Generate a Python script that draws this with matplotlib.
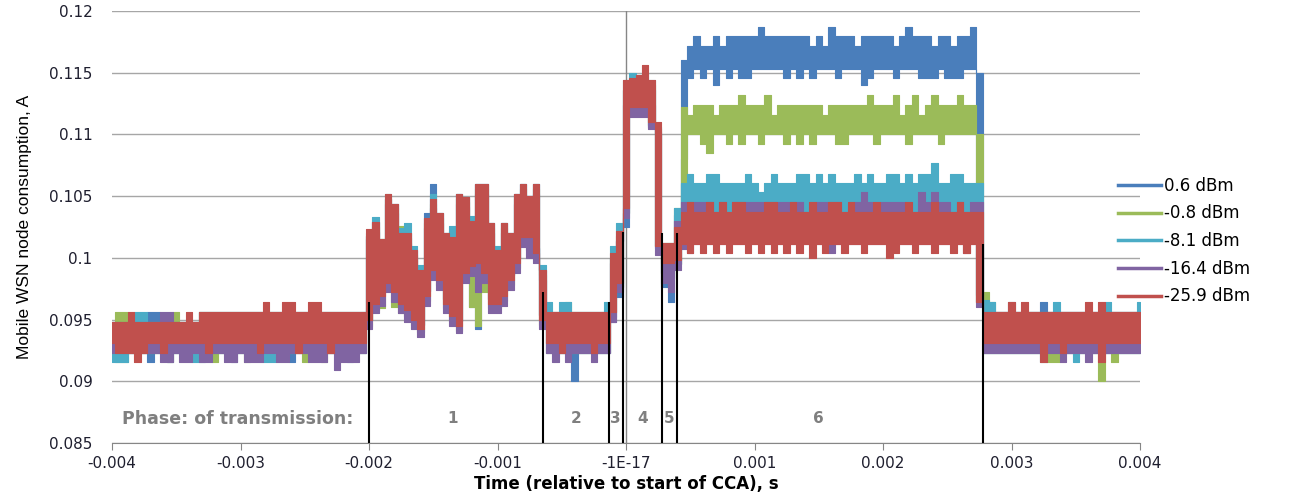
import matplotlib
matplotlib.use("Agg")
import matplotlib.pyplot as plt
import numpy as np
from matplotlib.lines import Line2D

# ---------------------------------------------------------------------------
# Data: one reading every 50 us from -4 ms to +4 ms (161 samples).
# Each trace is stored as the upper / lower edge of its noise band, in mA.
# Segments: idle (40) | phase 1 (28) | phase 2 (10) | phases 3-5 (12)
#           | phase 6 (45) | fall + idle (26)
# ---------------------------------------------------------------------------

T_START = -0.004
T_STEP = 0.00005

LABELS = ["0.6 dBm", "-0.8 dBm", "-8.1 dBm", "-16.4 dBm", "-25.9 dBm"]
COLORS = ["#4a7ebb", "#9bbb59", "#4bacc6", "#8064a2", "#c0504d"]

BLUE_HI = [
    94.8, 94.8, 94.8, 94.8, 94.8, 94.8, 95.6, 95.6, 94.8, 94.8,
    94.8, 94.8, 94.8, 94.8, 95.6, 95.6, 95.6, 95.6, 95.6, 95.6,
    95.6, 95.6, 95.6, 95.6, 95.6, 95.6, 95.6, 95.6, 95.6, 95.6,
    95.6, 95.6, 95.6, 95.6, 95.6, 95.6, 95.6, 95.6, 95.6, 95.6,
    101.8, 102.9, 101.1, 104.8, 104.4, 102.0, 102.0, 100.6, 99.0, 103.6,
    106.0, 103.6, 102.0, 101.7, 105.2, 104.9, 103.0, 106.0, 106.0, 102.8,
    100.6, 102.8, 102.0, 105.2, 106.0, 105.0, 106.0, 99.0,
    95.6, 95.6, 95.6, 95.6, 95.6, 95.6, 95.6, 95.6, 95.6, 95.6,
    100.0, 101.4, 113.6, 114.0, 114.0, 114.0, 113.6, 110.6, 100.8, 100.8, 103.5, 116.0,
    117.2, 118.0, 117.2, 117.2, 118.0, 117.2, 118.0, 118.0, 118.0, 118.0,
    118.0, 118.7, 118.0, 118.0, 118.0, 118.0, 118.0, 118.0, 118.0, 117.2,
    118.0, 117.2, 118.7, 118.0, 118.0, 118.0, 117.2, 118.0, 118.0, 118.0,
    118.0, 118.0, 117.2, 118.0, 118.7, 118.0, 118.0, 118.0, 117.2, 118.0,
    118.0, 117.2, 118.0, 118.0, 118.7,
    115.0, 96.0, 95.6, 95.6, 95.6, 95.6, 95.6, 95.6, 95.6, 95.6,
    96.4, 95.6, 95.6, 95.6, 95.6, 95.6, 95.6, 95.6, 95.6, 95.6,
    95.6, 95.6, 95.6, 95.6, 95.6, 95.6,
]
BLUE_LO = [
    92.3, 92.3, 92.3, 92.3, 92.3, 92.3, 91.6, 92.3, 92.3, 92.3,
    92.3, 92.3, 92.3, 92.3, 92.3, 92.3, 92.3, 92.3, 92.3, 91.6,
    92.3, 92.3, 92.3, 92.3, 92.3, 92.3, 92.3, 92.3, 91.6, 92.3,
    92.3, 92.3, 92.3, 92.3, 92.3, 92.3, 92.3, 92.3, 92.3, 92.3,
    95.0, 96.7, 97.3, 98.4, 97.6, 96.7, 96.2, 95.4, 94.6, 97.3,
    99.4, 98.6, 96.7, 95.7, 94.9, 99.2, 96.0, 94.2, 99.2, 96.7,
    96.7, 97.3, 98.6, 100.0, 102.1, 101.3, 100.8, 95.4,
    93.1, 92.3, 92.3, 92.3, 90.0, 92.3, 92.3, 92.3, 92.3, 92.3,
    94.8, 96.8, 102.5, 112.0, 112.0, 112.0, 110.6, 100.8, 97.6, 96.4, 99.5, 108.0,
    114.6, 115.3, 114.6, 115.3, 114.0, 115.3, 114.6, 115.3, 114.6, 114.6,
    115.3, 115.3, 115.3, 115.3, 115.3, 114.6, 115.3, 114.6, 115.3, 114.6,
    115.3, 115.3, 115.3, 114.6, 115.3, 115.3, 115.3, 114.0, 114.6, 115.3,
    115.3, 115.3, 114.6, 115.3, 115.3, 115.3, 114.6, 114.6, 114.6, 115.3,
    114.6, 114.6, 114.6, 115.3, 115.3,
    97.0, 92.3, 92.3, 92.3, 92.3, 92.3, 92.3, 92.3, 92.3, 92.3,
    92.3, 92.3, 92.3, 92.3, 92.3, 92.3, 92.3, 92.3, 92.3, 92.3,
    92.3, 92.3, 92.3, 92.3, 92.3, 92.3,
]

GREEN_HI = [
    94.8, 95.6, 95.6, 94.8, 94.8, 94.8, 94.8, 94.8, 94.8, 94.8,
    95.6, 94.8, 94.8, 94.8, 95.6, 95.6, 95.6, 95.6, 95.6, 95.6,
    95.6, 95.6, 95.6, 95.6, 95.6, 95.6, 95.6, 95.6, 95.6, 95.6,
    95.6, 95.6, 95.6, 95.6, 95.6, 95.6, 95.6, 95.6, 95.6, 95.6,
    101.8, 102.5, 101.5, 104.8, 104.0, 102.6, 101.6, 100.2, 98.6, 102.8,
    104.4, 103.2, 101.6, 102.2, 104.8, 104.5, 102.6, 105.6, 105.6, 102.4,
    100.2, 102.4, 101.6, 104.8, 105.6, 104.6, 105.6, 98.6,
    95.6, 95.6, 95.6, 96.4, 95.6, 95.6, 95.6, 95.6, 95.6, 95.6,
    100.0, 101.8, 113.6, 114.4, 114.4, 114.4, 114.0, 110.4, 101.2, 101.2, 104.0, 112.2,
    111.6, 112.4, 112.4, 112.4, 111.6, 112.4, 112.4, 112.4, 113.2, 112.4,
    112.4, 112.4, 113.2, 111.6, 112.4, 112.4, 112.4, 112.4, 112.4, 112.4,
    112.4, 111.6, 112.4, 112.4, 112.4, 112.4, 112.4, 112.4, 113.2, 112.4,
    112.4, 112.4, 113.2, 111.6, 112.4, 113.2, 111.6, 112.4, 113.2, 112.4,
    112.4, 112.4, 113.2, 112.4, 112.4,
    110.0, 97.2, 96.4, 95.6, 95.6, 95.6, 95.6, 95.6, 95.6, 95.6,
    95.6, 95.6, 95.6, 95.6, 95.6, 95.6, 95.6, 95.6, 95.6, 95.6,
    95.6, 95.6, 95.6, 95.6, 95.6, 95.6,
]
GREEN_LO = [
    92.3, 91.6, 91.6, 92.3, 92.3, 92.3, 92.3, 92.3, 92.3, 91.6,
    92.3, 92.3, 92.3, 92.3, 92.3, 92.3, 91.6, 92.3, 92.3, 92.3,
    92.3, 91.6, 92.3, 92.3, 92.3, 92.3, 92.3, 92.3, 92.3, 92.3,
    91.6, 92.3, 92.3, 91.6, 92.3, 92.3, 92.3, 92.3, 92.3, 92.3,
    94.5, 95.8, 95.9, 97.6, 96.0, 95.5, 95.3, 94.6, 94.0, 96.5,
    98.6, 97.8, 95.9, 94.9, 94.1, 98.4, 96.0, 94.5, 97.2, 95.9,
    95.9, 96.5, 97.8, 99.2, 101.3, 100.6, 100.0, 94.6,
    92.3, 92.3, 92.3, 92.3, 92.3, 92.3, 92.3, 92.3, 92.3, 92.3,
    95.6, 97.6, 103.6, 112.0, 112.0, 112.0, 110.8, 101.0, 98.8, 98.4, 99.5, 106.0,
    110.0, 110.0, 109.2, 108.5, 110.0, 110.0, 109.2, 110.0, 109.2, 110.0,
    110.0, 109.2, 110.0, 110.0, 110.0, 109.2, 110.0, 109.2, 110.0, 109.2,
    110.0, 110.0, 110.0, 109.2, 109.2, 110.0, 110.0, 110.0, 110.0, 109.2,
    110.0, 110.0, 110.0, 110.0, 109.2, 110.0, 110.0, 110.0, 110.0, 109.2,
    110.0, 110.0, 110.0, 110.0, 110.0,
    96.4, 92.3, 92.3, 92.3, 92.3, 92.3, 92.3, 92.3, 92.3, 92.3,
    92.3, 91.6, 91.6, 92.3, 92.3, 92.3, 92.3, 92.3, 92.3, 90.0,
    92.3, 91.6, 92.3, 92.3, 92.3, 92.3,
]

CYAN_HI = [
    94.8, 94.8, 94.8, 94.8, 95.6, 95.6, 94.8, 94.8, 94.8, 94.8,
    94.8, 94.8, 94.8, 94.8, 95.6, 95.6, 95.6, 95.6, 95.6, 95.6,
    95.6, 95.6, 95.6, 95.6, 95.6, 95.6, 95.6, 95.6, 95.6, 95.6,
    95.6, 95.6, 95.6, 95.6, 95.6, 95.6, 95.6, 95.6, 95.6, 95.6,
    102.0, 103.3, 101.5, 105.2, 104.4, 102.4, 102.8, 101.0, 99.4, 103.2,
    105.2, 103.6, 102.0, 102.6, 105.2, 104.9, 103.4, 106.0, 106.0, 102.8,
    101.0, 102.8, 102.0, 105.2, 106.0, 105.0, 106.0, 99.4,
    96.4, 95.6, 96.4, 96.4, 95.6, 95.6, 95.6, 95.6, 95.6, 96.4,
    101.0, 102.8, 114.4, 115.0, 114.8, 115.0, 114.4, 110.0, 101.2, 101.2, 104.0, 106.1,
    106.8, 106.1, 106.1, 106.8, 106.8, 106.1, 106.1, 106.1, 106.1, 106.8,
    106.1, 105.3, 106.1, 106.8, 106.1, 106.1, 106.1, 106.8, 106.8, 106.1,
    106.8, 106.1, 106.8, 106.1, 106.1, 106.1, 106.8, 106.1, 106.8, 106.1,
    106.1, 106.8, 106.8, 106.1, 106.8, 106.1, 106.8, 106.8, 107.7, 106.1,
    106.1, 106.8, 106.8, 106.1, 106.1,
    106.1, 96.6, 96.4, 95.6, 95.6, 96.4, 95.6, 95.6, 95.6, 95.6,
    95.6, 95.6, 96.4, 95.6, 95.6, 95.6, 95.6, 95.6, 95.6, 95.6,
    96.4, 95.6, 95.6, 95.6, 95.6, 96.4,
]
CYAN_LO = [
    91.6, 91.6, 91.6, 92.3, 92.3, 92.3, 92.3, 92.3, 92.3, 91.6,
    92.3, 92.3, 92.3, 91.6, 91.6, 92.3, 92.3, 92.3, 92.3, 92.3,
    92.3, 92.3, 92.3, 92.3, 91.6, 91.6, 92.3, 92.3, 92.3, 92.3,
    92.3, 92.3, 92.3, 92.3, 92.3, 92.3, 92.3, 91.6, 92.3, 92.3,
    95.0, 96.7, 97.3, 98.4, 97.6, 96.7, 96.2, 95.4, 94.6, 97.3,
    99.4, 98.6, 96.7, 95.7, 94.9, 99.2, 99.7, 100.0, 99.2, 96.7,
    96.7, 97.3, 98.6, 100.0, 102.1, 101.3, 100.8, 95.4,
    92.3, 92.3, 92.3, 92.3, 92.3, 92.3, 92.3, 92.3, 92.3, 92.3,
    95.2, 97.6, 103.6, 112.0, 112.0, 112.0, 110.8, 101.0, 98.8, 98.4, 99.5, 103.0,
    103.0, 103.0, 103.0, 103.0, 103.0, 103.0, 103.0, 103.0, 103.0, 103.0,
    103.0, 103.0, 103.0, 103.0, 103.0, 103.0, 103.0, 103.0, 103.0, 103.0,
    103.0, 103.0, 103.0, 103.0, 103.0, 103.0, 103.0, 103.0, 103.0, 103.0,
    103.0, 103.0, 103.0, 103.0, 103.0, 103.0, 103.0, 103.0, 103.0, 103.0,
    103.0, 103.0, 103.0, 103.0, 103.0,
    96.4, 92.3, 92.3, 92.3, 92.3, 92.3, 92.3, 92.3, 92.3, 92.3,
    91.6, 92.3, 92.3, 92.3, 92.3, 91.6, 92.3, 92.3, 92.3, 92.3,
    92.3, 92.3, 92.3, 92.3, 92.3, 92.3,
]

PURPLE_HI = [
    94.8, 94.8, 94.8, 94.8, 94.8, 94.8, 94.8, 94.8, 95.6, 95.6,
    94.8, 94.8, 94.8, 94.8, 94.8, 94.8, 94.8, 94.8, 94.8, 94.8,
    94.8, 94.8, 94.8, 94.8, 94.8, 94.8, 94.8, 94.8, 94.8, 94.8,
    94.8, 94.8, 94.8, 94.8, 94.8, 94.8, 94.8, 94.8, 94.8, 94.8,
    101.5, 102.1, 100.7, 104.4, 103.6, 101.2, 101.2, 99.8, 98.2, 102.4,
    104.0, 102.8, 101.2, 100.9, 104.4, 104.1, 102.2, 105.2, 105.2, 102.0,
    99.8, 102.0, 101.2, 104.4, 105.2, 104.2, 105.2, 98.2,
    94.8, 94.8, 94.8, 94.8, 94.8, 94.8, 94.8, 94.8, 94.8, 94.8,
    99.6, 101.4, 112.4, 112.4, 112.4, 112.4, 112.4, 110.2, 100.4, 100.4, 103.0, 104.5,
    104.5, 104.5, 104.5, 104.5, 103.7, 104.5, 103.7, 104.5, 104.5, 104.5,
    104.5, 104.5, 104.5, 104.5, 104.5, 104.5, 104.5, 104.5, 103.7, 103.7,
    104.5, 104.5, 104.5, 104.5, 103.7, 103.7, 104.5, 105.3, 104.5, 103.7,
    104.5, 104.5, 104.5, 104.5, 103.7, 103.7, 105.3, 104.5, 105.3, 104.5,
    104.5, 103.7, 104.5, 103.7, 104.5,
    104.5, 95.6, 95.6, 95.6, 95.6, 95.6, 95.6, 95.6, 95.6, 95.6,
    95.6, 95.6, 95.6, 95.6, 95.6, 95.6, 95.6, 95.6, 95.6, 95.6,
    95.6, 95.6, 95.6, 95.6, 95.6, 95.6,
]
PURPLE_LO = [
    92.3, 92.3, 92.3, 92.3, 92.3, 92.3, 92.3, 92.3, 91.6, 91.6,
    92.3, 91.6, 91.6, 92.3, 91.6, 91.6, 92.3, 92.3, 91.6, 91.6,
    92.3, 91.6, 91.6, 91.6, 92.3, 92.3, 91.6, 91.6, 92.3, 92.3,
    92.3, 91.6, 91.6, 91.6, 92.3, 90.9, 91.6, 91.6, 91.6, 92.3,
    94.2, 95.5, 96.1, 97.2, 96.4, 95.5, 94.8, 94.2, 93.6, 96.1,
    98.2, 97.4, 95.5, 94.5, 93.9, 98.0, 98.5, 97.2, 98.0, 95.5,
    95.5, 96.1, 97.4, 98.8, 100.9, 100.0, 99.6, 94.2,
    92.3, 91.6, 92.3, 91.6, 92.3, 92.3, 92.3, 91.6, 92.3, 92.3,
    94.8, 97.2, 103.2, 111.4, 111.4, 111.4, 110.4, 100.2, 98.0, 97.2, 99.0, 100.7,
    100.4, 101.1, 101.1, 101.1, 101.1, 101.1, 101.1, 101.1, 101.1, 101.1,
    101.1, 101.1, 101.1, 101.1, 101.1, 101.1, 101.1, 101.1, 101.1, 101.1,
    101.1, 101.1, 100.4, 101.1, 101.1, 101.1, 101.1, 101.1, 101.1, 101.1,
    101.1, 101.1, 101.1, 101.1, 101.1, 101.1, 101.1, 101.1, 101.1, 101.1,
    101.1, 101.1, 101.1, 100.4, 101.1,
    96.0, 92.3, 92.3, 92.3, 92.3, 92.3, 92.3, 92.3, 92.3, 92.3,
    92.3, 92.3, 92.3, 91.6, 92.3, 92.3, 92.3, 91.6, 92.3, 92.3,
    92.3, 92.3, 92.3, 92.3, 92.3, 92.3,
]

RED_HI = [
    94.8, 94.8, 94.8, 95.6, 94.8, 94.8, 94.8, 94.8, 94.8, 94.8,
    94.8, 94.8, 95.6, 94.8, 95.6, 95.6, 95.6, 95.6, 95.6, 95.6,
    95.6, 95.6, 95.6, 95.6, 96.4, 95.6, 95.6, 96.4, 96.4, 95.6,
    95.6, 96.4, 96.4, 95.6, 95.6, 95.6, 95.6, 95.6, 95.6, 95.6,
    102.3, 102.9, 101.5, 105.2, 104.4, 102.0, 102.0, 100.6, 99.0, 103.2,
    104.8, 103.6, 102.0, 101.7, 105.2, 104.9, 103.0, 106.0, 106.0, 102.8,
    100.6, 102.8, 102.0, 105.2, 106.0, 105.0, 106.0, 99.0,
    95.6, 95.6, 95.6, 95.6, 95.6, 95.6, 95.6, 95.6, 95.6, 95.6,
    100.4, 102.2, 114.4, 114.6, 114.8, 115.6, 114.4, 111.0, 101.2, 101.2, 102.5, 103.7,
    104.5, 103.7, 103.7, 104.5, 103.7, 104.5, 103.7, 104.5, 104.5, 103.7,
    103.7, 103.7, 104.5, 104.5, 103.7, 103.7, 104.5, 103.7, 103.7, 104.5,
    103.7, 103.7, 104.5, 104.5, 103.7, 104.5, 103.7, 103.7, 103.7, 104.5,
    103.7, 103.7, 103.7, 103.7, 104.5, 103.7, 103.7, 103.7, 104.5, 103.7,
    103.7, 103.7, 104.5, 103.7, 103.7,
    103.7, 95.6, 95.6, 95.6, 95.6, 96.4, 95.6, 96.4, 95.6, 95.6,
    95.6, 95.6, 95.6, 95.6, 95.6, 95.6, 95.6, 96.4, 95.6, 96.4,
    95.6, 95.6, 95.6, 95.6, 95.6, 95.6,
]
RED_LO = [
    93.1, 92.3, 92.3, 92.3, 91.6, 92.3, 93.1, 93.1, 92.3, 93.1,
    93.1, 93.1, 93.1, 93.1, 93.1, 92.3, 93.1, 93.1, 93.1, 93.1,
    93.1, 93.1, 93.1, 92.3, 93.1, 93.1, 93.1, 93.1, 93.1, 92.3,
    93.1, 93.1, 93.1, 93.1, 92.3, 93.1, 93.1, 93.1, 93.1, 93.1,
    95.0, 96.3, 96.9, 98.0, 97.2, 96.3, 95.8, 95.0, 94.2, 96.9,
    99.0, 98.2, 96.3, 95.3, 94.5, 98.8, 99.3, 99.6, 98.8, 96.3,
    96.3, 96.9, 98.2, 99.6, 101.7, 101.7, 100.4, 95.0,
    93.1, 93.1, 92.3, 93.1, 93.1, 93.1, 93.1, 92.3, 93.1, 93.1,
    95.6, 98.0, 104.0, 112.2, 112.2, 112.2, 111.0, 101.0, 99.6, 99.6, 99.8, 101.1,
    100.4, 101.1, 100.4, 101.1, 100.4, 101.1, 100.4, 101.1, 101.1, 100.4,
    101.1, 100.4, 101.1, 100.4, 101.1, 100.4, 101.1, 100.4, 101.1, 100.0,
    101.1, 100.4, 101.1, 101.1, 100.4, 101.1, 101.1, 100.4, 101.1, 101.1,
    101.1, 100.0, 100.4, 101.1, 101.1, 100.4, 101.1, 101.1, 100.4, 101.1,
    101.1, 100.4, 101.1, 100.4, 101.1,
    96.4, 93.1, 93.1, 93.1, 93.1, 93.1, 93.1, 93.1, 93.1, 93.1,
    91.6, 93.1, 93.1, 92.3, 93.1, 93.1, 93.1, 93.1, 93.1, 91.6,
    93.1, 93.1, 93.1, 93.1, 93.1, 93.1,
]

# phase boundaries (s) and the height the marker lines reach (A)
PHASE_T = [-0.002, -0.000646, -0.000132, -0.0000195, 0.000283, 0.000397, 0.002776]
PHASE_TOP = [0.0964, 0.0972, 0.0964, 0.1021, 0.1020, 0.1020, 0.1011]
PHASE_NAMES = ["1", "2", "3", "4", "5", "6"]
PHASE_NAME_T = [-0.001346, -0.000389, -0.0000856, 0.000132, 0.000335, 0.0015]

X_TICKS = [-0.004, -0.003, -0.002, -0.001, 0.0, 0.001, 0.002, 0.003, 0.004]
X_TICK_LABELS = ["-0.004", "-0.003", "-0.002", "-0.001", "-1E-17",
                 "0.001", "0.002", "0.003", "0.004"]
Y_TICKS = [0.085, 0.09, 0.095, 0.1, 0.105, 0.11, 0.115, 0.12]
Y_TICK_LABELS = ["0.085", "0.09", "0.095", "0.1", "0.105", "0.11", "0.115", "0.12"]


def main():
    bands = [(BLUE_LO, BLUE_HI), (GREEN_LO, GREEN_HI), (CYAN_LO, CYAN_HI),
             (PURPLE_LO, PURPLE_HI), (RED_LO, RED_HI)]
    n = len(RED_HI)
    for lo, hi in bands:
        assert len(lo) == n and len(hi) == n, (len(lo), len(hi))
    t = T_START + T_STEP * np.arange(n)

    fig = plt.figure(figsize=(12.97, 4.93), dpi=100)
    ax = fig.add_axes([112 / 1297, 50 / 493, 1028 / 1297, 432 / 493])

    for z, ((lo, hi), color) in enumerate(zip(bands, COLORS)):
        ax.fill_between(t, np.array(lo) / 1000, np.array(hi) / 1000, step="mid",
                        facecolor=color, edgecolor=color, linewidth=0.8, zorder=3 + z)

    # vertical axis sits at t = 0
    ax.axvline(0, color="#868686", lw=1, zorder=2)

    ax.vlines(PHASE_T, 0.085, PHASE_TOP, color="black", lw=1.5, zorder=10)
    ax.text(-0.00302, 0.08695, "Phase: of transmission:", ha="center", va="center",
            fontsize=12.5, fontweight="bold", color="#7f7f7f", zorder=11)
    for name, tx in zip(PHASE_NAMES, PHASE_NAME_T):
        ax.text(tx, 0.08695, name, ha="center", va="center",
                fontsize=11, fontweight="bold", color="#7f7f7f", zorder=11)

    ax.set_xlim(-0.004, 0.004)
    ax.set_ylim(0.085, 0.12)
    ax.set_xticks(X_TICKS)
    ax.set_xticklabels(X_TICK_LABELS)
    ax.set_yticks(Y_TICKS)
    ax.set_yticklabels(Y_TICK_LABELS)
    ax.tick_params(axis="x", direction="out", length=5, color="#868686",
                   labelsize=11, labelcolor="#1f1f2f", pad=4)
    ax.tick_params(axis="y", length=0, labelsize=11, labelcolor="#1f1f2f", pad=14)

    ax.yaxis.grid(True, color="#a6a6a6", lw=1)
    ax.set_axisbelow(True)
    for side in ("top", "right", "left"):
        ax.spines[side].set_visible(False)
    ax.spines["bottom"].set_color("#868686")

    ax.set_xlabel("Time (relative to start of CCA), s", fontsize=12,
                  fontweight="bold", labelpad=3)
    ax.set_ylabel("Mobile WSN node consumption, A", fontsize=12.5,
                  family=["Liberation Sans", "DejaVu Sans"], labelpad=12)

    handles = [Line2D([], [], color=c, lw=2.5) for c in COLORS]
    fig.legend(handles, LABELS, loc="center left",
               bbox_to_anchor=(1118 / 1297, 1 - 241 / 493), frameon=False,
               fontsize=12, handlelength=2.6, handletextpad=0.15,
               labelspacing=0.58, borderaxespad=0, borderpad=0)

    fig.savefig("out.png", dpi=100)
    plt.close(fig)


if __name__ == "__main__":
    main()
